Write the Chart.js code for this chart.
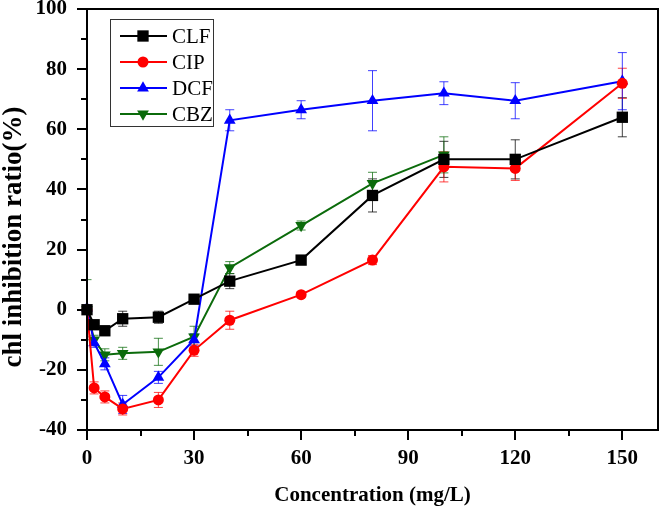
<!DOCTYPE html>
<html>
<head>
<meta charset="utf-8">
<script src="https://cdn.jsdelivr.net/npm/chart.js@4"></script>
<style>
  html, body { margin: 0; padding: 0; background: #fff; }
  #wrap { width: 666px; height: 508px; }
</style>
</head>
<body>
<div id="wrap"><canvas id="chl"></canvas></div>
<script>
// ── Dados ───────────────────────────────────────────────────
const conc   = [0, 2, 5, 10, 20, 30, 40, 60, 80, 100, 120, 150];
const clf    = [0, -5, -7, -3, -2.5, 3.5, 9.5, 16.5, 38, 50, 50, 64];
const clfErr = [1, 1.5, 1.5, 2.5, 2, 1, 2.5, 1.5, 5.5, 6, 6.5, 6.5];
const cip    = [0, -26, -29, -33, -30, -13.5, -3.5, 5, 16.5, 47.5, 47, 75.3];
const cipErr = [1, 2, 2, 2, 2.5, 2, 3, 1, 1.5, 5, 4, 5];
const dcf    = [0.5, -11, -18, -31.5, -22.5, -10, 63, 66.5, 69.5, 72, 69.5, 76];
const dcfErr = [1, 1.5, 2, 3, 2, 2, 3.5, 3, 10, 3.8, 6, 9.5];
const cbz    = [0, -10, -15, -14.5, -14, -9, 14, 28, 42, 51.5];
const cbzErr = [10, 1.5, 2, 2, 4.5, 3.5, 2, 1.5, 3.7, 6];
const yTicks = [-40, -20, 0, 20, 40, 60, 80, 100];
const xTicks = [0, 30, 60, 90, 120, 150];
const yTitulo = 'chl inhibition ratio(%)';

const SERIF = "'Liberation Serif', 'Times New Roman', serif";

function serie(label, vals, errs, cor, estilo, raio, rot) {
  return {
    label, errs,
    data: vals.map((v, i) => ({ x: conc[i], y: v })),
    borderColor: cor, backgroundColor: cor,
    borderWidth: 2, tension: 0, clip: false,
    pointStyle: estilo, pointRadius: raio, pointRotation: rot || 0,
    pointBorderWidth: 0, pointBackgroundColor: cor,
  };
}

// ── Barras de erro ──────────────────────────────────────────
const barrasErro = {
  id: 'barrasErro',
  beforeDatasetsDraw(chart) {
    const { ctx, scales: { x, y } } = chart;
    ctx.save();
    ctx.lineWidth = 1;
    chart.data.datasets.forEach(ds => {
      ctx.strokeStyle = ds.borderColor;
      ctx.globalAlpha = 0.75;
      ds.data.forEach((p, i) => {
        const e = ds.errs[i];
        if (!e) return;
        const px = x.getPixelForValue(p.x);
        const y1 = y.getPixelForValue(p.y + e), y2 = y.getPixelForValue(p.y - e);
        ctx.beginPath();
        ctx.moveTo(px, y1); ctx.lineTo(px, y2);
        ctx.moveTo(px - 4.5, y1); ctx.lineTo(px + 4.5, y1);
        ctx.moveTo(px - 4.5, y2); ctx.lineTo(px + 4.5, y2);
        ctx.stroke();
      });
    });
    ctx.restore();
  }
};

// ── Moldura, marcas dos eixos e título Y ────────────────────
const moldura = {
  id: 'moldura',
  afterDraw(chart) {
    const { ctx, chartArea: a, scales: { x, y } } = chart;
    ctx.save();
    ctx.strokeStyle = '#000';
    ctx.lineWidth = 2;
    ctx.strokeRect(a.left, a.top, a.right - a.left, a.bottom - a.top);
    ctx.beginPath();
    for (let v = -40; v <= 100; v += 10) {
      const py = Math.round(y.getPixelForValue(v));
      const len = v % 20 === 0 ? 10 : 6;
      ctx.moveTo(a.left, py); ctx.lineTo(a.left - len, py);
    }
    for (let v = 0; v <= 150; v += 15) {
      const px = Math.round(x.getPixelForValue(v));
      const len = v % 30 === 0 ? 10 : 6;
      ctx.moveTo(px, a.bottom); ctx.lineTo(px, a.bottom + len);
    }
    ctx.stroke();

    // título do eixo Y (um pouco abaixo do centro, como no original)
    ctx.translate(14, 237);
    ctx.rotate(-Math.PI / 2);
    ctx.font = 'bold 27px ' + SERIF;
    ctx.fillStyle = '#000';
    ctx.textAlign = 'center';
    ctx.textBaseline = 'middle';
    ctx.fillText(yTitulo, 0, 0);
    ctx.restore();
  }
};

// ── Legenda interna ─────────────────────────────────────────
const legenda = {
  id: 'legenda',
  afterDraw(chart) {
    const { ctx } = chart;
    ctx.save();
    ctx.fillStyle = '#fff';
    ctx.fillRect(110, 19, 103, 107);
    ctx.strokeStyle = '#333';
    ctx.lineWidth = 1;
    ctx.strokeRect(110.5, 19.5, 103, 107);
    ctx.font = '21px ' + SERIF;
    ctx.textBaseline = 'middle';
    chart.data.datasets.forEach((ds, i) => {
      const yy = 36 + i * 26;
      ctx.strokeStyle = ds.borderColor;
      ctx.lineWidth = 2;
      ctx.beginPath(); ctx.moveTo(120, yy); ctx.lineTo(167, yy); ctx.stroke();
      ctx.fillStyle = ds.borderColor;
      Chart.helpers.drawPoint(ctx, {
        pointStyle: ds.pointStyle, radius: ds.pointRadius,
        rotation: ds.pointRotation, borderWidth: 0
      }, 143, yy);
      ctx.fillStyle = '#000';
      ctx.fillText(ds.label, 172, yy + 1);
    });
    ctx.restore();
  }
};

// sem folga extra para os rótulos: a área do gráfico fica fixa
function semFolga(s) {
  s.paddingTop = 0; s.paddingBottom = 0;
  s.paddingLeft = 0; s.paddingRight = 0;
}

new Chart(document.getElementById('chl'), {
  type: 'line',
  data: {
    datasets: [
      serie('CLF', clf, clfErr, '#000000', 'rect', 8),
      serie('CIP', cip, cipErr, '#ff0000', 'circle', 5.5),
      serie('DCF', dcf, dcfErr, '#0000ff', 'triangle', 6.8),
      serie('CBZ', cbz, cbzErr, '#0b6b0b', 'triangle', 6.8, 180),
    ]
  },
  options: {
    responsive: true, maintainAspectRatio: false, animation: false,
    layout: { padding: { top: 9, right: 3, left: 0, bottom: 0 } },
    plugins: { legend: { display: false }, tooltip: { enabled: false } },
    scales: {
      x: {
        type: 'linear', min: 0, max: 160,
        afterFit: s => { s.height = 78; semFolga(s); },
        grid: { display: false, drawTicks: false }, border: { display: false },
        afterBuildTicks: s => { s.ticks = xTicks.map(v => ({ value: v })); },
        ticks: { padding: 16, color: '#000', font: { family: SERIF, size: 21, weight: 'bold' }, maxRotation: 0 },
        title: { display: true, text: 'Concentration (mg/L)', color: '#000',
          font: { family: SERIF, size: 21, weight: 'bold' }, padding: { top: 0, bottom: 0 } }
      },
      y: {
        min: -40, max: 100,
        afterFit: s => { s.width = 87; semFolga(s); },
        grid: { display: false, drawTicks: false }, border: { display: false },
        afterBuildTicks: s => { s.ticks = yTicks.map(v => ({ value: v })); },
        ticks: { padding: 20, color: '#000', font: { family: SERIF, size: 21, weight: 'bold' } },
        title: { display: false }
      }
    }
  },
  plugins: [barrasErro, moldura, legenda]
});
</script>
</body>
</html>
